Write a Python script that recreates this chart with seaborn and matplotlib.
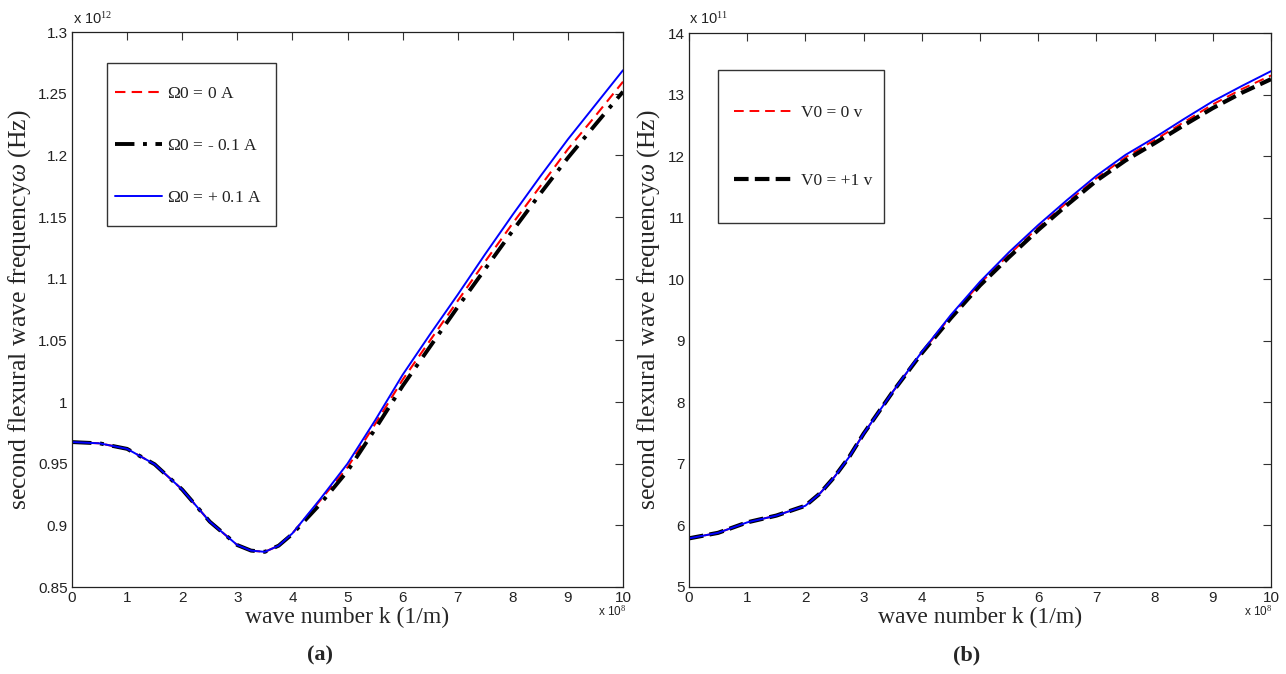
import numpy as np
import pandas as pd
import matplotlib
matplotlib.use("Agg")
import matplotlib.pyplot as plt
from matplotlib import font_manager
from matplotlib.patches import Rectangle
import seaborn as sns

# ---------------- data (k in 1e8 1/m, omega in 1e12 / 1e11 Hz) ----------------
k_a = [0, 0.5, 1, 1.5, 2, 2.5, 3, 3.25, 3.5, 3.75, 4, 4.5, 5, 5.5, 6, 6.5, 7, 7.5, 8, 8.5, 9, 9.5, 10]
w_a_zero = [0.9675, 0.9665, 0.962, 0.9495, 0.929, 0.903, 0.884, 0.8795, 0.8785, 0.8835, 0.8935,
            0.920, 0.947, 0.982, 1.018, 1.050, 1.082, 1.114, 1.145, 1.175, 1.205, 1.232, 1.2597]
w_a_minus = [0.9675, 0.9665, 0.962, 0.9495, 0.929, 0.903, 0.884, 0.8795, 0.8785, 0.8835, 0.893,
             0.917, 0.944, 0.978, 1.013, 1.045, 1.077, 1.108, 1.139, 1.169, 1.198, 1.225, 1.2516]
w_a_plus = [0.9675, 0.9665, 0.962, 0.9495, 0.929, 0.903, 0.884, 0.8795, 0.8785, 0.8835, 0.8935,
            0.921, 0.950, 0.985, 1.022, 1.055, 1.087, 1.120, 1.152, 1.183, 1.213, 1.241, 1.269]
labels_a = [r"$\Omega$0 = 0 A", r"$\Omega$0 = - 0.1 A", r"$\Omega$0 = + 0.1 A"]

k_b = [0, 0.5, 1, 1.5, 2, 2.25, 2.5, 2.75, 3, 3.5, 4, 4.5, 5, 5.5, 6, 6.5, 7, 7.5, 8, 8.5, 9, 9.5, 10]
w_b_zero = [5.79, 5.88, 6.05, 6.16, 6.32, 6.52, 6.79, 7.11, 7.49, 8.17, 8.81, 9.40, 9.93, 10.40,
            10.84, 11.25, 11.64, 11.98, 12.26, 12.55, 12.84, 13.09, 13.31]
w_b_plus1 = [5.79, 5.88, 6.05, 6.16, 6.32, 6.52, 6.79, 7.11, 7.49, 8.17, 8.80, 9.37, 9.90, 10.36,
             10.80, 11.21, 11.60, 11.93, 12.21, 12.50, 12.78, 13.03, 13.25]
w_b_ref = [5.79, 5.88, 6.05, 6.16, 6.32, 6.52, 6.79, 7.11, 7.49, 8.17, 8.82, 9.42, 9.96, 10.44,
           10.88, 11.29, 11.68, 12.02, 12.30, 12.60, 12.89, 13.14, 13.38]
labels_b = ["V0 = 0 v", "V0 = +1 v"]

xticks = [0, 1, 2, 3, 4, 5, 6, 7, 8, 9, 10]
yticks_a = [0.85, 0.9, 0.95, 1.0, 1.05, 1.1, 1.15, 1.2, 1.25, 1.3]
yticklabels_a = ["0.85", "0.9", "0.95", "1", "1.05", "1.1", "1.15", "1.2", "1.25", "1.3"]
yticks_b = [5, 6, 7, 8, 9, 10, 11, 12, 13, 14]

# ---------------- style ----------------
sns.set_style("white")
avail = {f.name for f in font_manager.fontManager.ttflist}
tick_font = "Liberation Sans Narrow" if "Liberation Sans Narrow" in avail else "Liberation Sans"
serif = "Liberation Serif"
plt.rcParams["font.family"] = [serif, "DejaVu Serif"]
plt.rcParams["mathtext.fontset"] = "custom"
plt.rcParams["mathtext.rm"] = serif
plt.rcParams["mathtext.it"] = serif + ":italic"

fig = plt.figure(figsize=(12.86, 6.74), dpi=100)
W, H = 1286, 674
ax_a = fig.add_axes([72 / W, 1 - 587 / H, (623 - 72) / W, (587 - 32) / H])
ax_b = fig.add_axes([689 / W, 1 - 587 / H, (1271 - 689) / W, (587 - 33) / H])

df_a = pd.DataFrame({"k": k_a, "zero": w_a_zero, "minus": w_a_minus, "plus": w_a_plus})
sns.lineplot(data=df_a, x="k", y="zero", ax=ax_a, color="red", lw=1.5,
             linestyle=(0, (5, 3)), label=labels_a[0])
sns.lineplot(data=df_a, x="k", y="minus", ax=ax_a, color="black", lw=2.8,
             linestyle=(0, (5, 2.2, 1, 2.2)), label=labels_a[1])
sns.lineplot(data=df_a, x="k", y="plus", ax=ax_a, color="blue", lw=1.4,
             linestyle="-", label=labels_a[2])

df_b = pd.DataFrame({"k": k_b, "zero": w_b_zero, "plus1": w_b_plus1, "ref": w_b_ref})
sns.lineplot(data=df_b, x="k", y="zero", ax=ax_b, color="red", lw=1.4,
             linestyle=(0, (5, 3)), label=labels_b[0])
sns.lineplot(data=df_b, x="k", y="plus1", ax=ax_b, color="black", lw=3.0,
             linestyle=(0, (3.5, 1.5)), label=labels_b[1])
sns.lineplot(data=df_b, x="k", y="ref", ax=ax_b, color="blue", lw=1.4,
             linestyle="-", label="_nolegend_")

ax_a.set_ylim(0.85, 1.3)
ax_a.set_yticks(yticks_a)
ax_a.set_yticklabels(yticklabels_a)
ax_b.set_ylim(5, 14)
ax_b.set_yticks(yticks_b)
ax_b.set_yticklabels([str(t) for t in yticks_b])

for ax in (ax_a, ax_b):
    ax.set_xlim(0, 10)
    ax.set_xticks(xticks)
    ax.set_xticklabels([str(t) for t in xticks])
    ax.tick_params(direction="in", length=6, width=0.8, top=True, right=True,
                   labelsize=11, colors="#333333", labelcolor="#222222", pad=3)
    for lab in ax.get_xticklabels() + ax.get_yticklabels():
        lab.set_family(tick_font)
    for sp in ax.spines.values():
        sp.set_color("#222222")
        sp.set_linewidth(0.9)
    ax.set_xlabel("wave number k (1/m)", fontsize=17, labelpad=1)
    ax.set_ylabel(r"second flexural wave frequency$\omega$ (Hz)", fontsize=18.5, labelpad=4)

# legends (frame drawn separately to match box geometry)
leg_a = ax_a.legend(loc="center left", bbox_to_anchor=(115 / W, 1 - 146 / H),
                    bbox_transform=fig.transFigure, fontsize=12.5, frameon=False,
                    handlelength=2.7, handletextpad=0.3, labelspacing=2.05,
                    borderpad=0, borderaxespad=0)
leg_b = ax_b.legend(loc="center left", bbox_to_anchor=(734 / W, 1 - 147 / H),
                    bbox_transform=fig.transFigure, fontsize=12.5, frameon=False,
                    handlelength=3.3, handletextpad=0.55, labelspacing=3.0,
                    borderpad=0, borderaxespad=0)
for t in leg_a.get_texts() + leg_b.get_texts():
    t.set_color("#222222")

fig.patches.append(Rectangle((107 / W, 1 - 226 / H), (276 - 107) / W, (226 - 63) / H,
                             transform=fig.transFigure, fill=False, edgecolor="#333333",
                             linewidth=1.0, zorder=5))
fig.patches.append(Rectangle((718 / W, 1 - 223 / H), (884 - 718) / W, (223 - 70) / H,
                             transform=fig.transFigure, fill=False, edgecolor="#333333",
                             linewidth=1.0, zorder=5))

# scale factors
fig.text(73 / W, 1 - 19 / H, r"x 10$^{12}$", fontsize=10.5, family=tick_font,
         color="#222222", va="center", ha="left")
fig.text(689 / W, 1 - 19 / H, r"x 10$^{11}$", fontsize=10.5, family=tick_font,
         color="#222222", va="center", ha="left")
fig.text(598 / W, 1 - 611 / H, r"x 10$^{8}$", fontsize=8.5, family=tick_font,
         color="#222222", va="center", ha="left")
fig.text(1244 / W, 1 - 611 / H, r"x 10$^{8}$", fontsize=8.5, family=tick_font,
         color="#222222", va="center", ha="left")

fig.text(320 / W, 1 - 655 / H, "(a)", fontsize=16, fontweight="bold", ha="center", va="center")
fig.text(967 / W, 1 - 655 / H, "(b)", fontsize=16, fontweight="bold", ha="center", va="center")

fig.savefig("out.png", dpi=100, facecolor="white")
